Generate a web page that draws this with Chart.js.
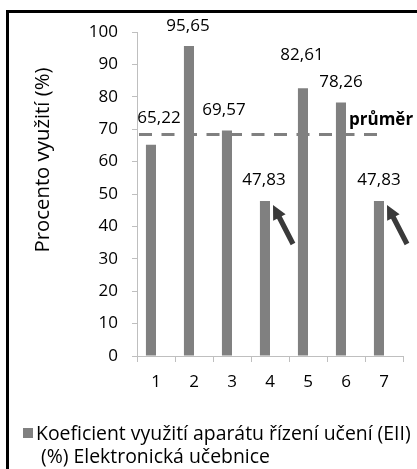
<!DOCTYPE html>
<html>
<head>
<meta charset="utf-8">
<script src="https://cdn.jsdelivr.net/npm/chart.js@4/dist/chart.umd.min.js"></script>
<style>
  html, body { margin: 0; padding: 0; background: #fff; overflow: hidden; }
  #wrap { position: relative; width: 417px; height: 469px; overflow: hidden; }
  #frame { position: absolute; left: 6px; top: 10px; width: 600px; height: 700px; border: 3px solid #000; box-sizing: border-box; pointer-events: none; }
  canvas { position: absolute; left: 0; top: 0; }
</style>
</head>
<body>
<div id="wrap">
  <canvas id="c" width="417" height="469"></canvas>
  <div id="frame"></div>
</div>
<script>
// ---- data ----
const categories = ['1', '2', '3', '4', '5', '6', '7'];
const values = [65.22, 95.65, 69.57, 47.83, 82.61, 78.26, 47.83];
const averageValue = 68.4;
const averageLabel = 'průměr';
const yTickValues = [0, 10, 20, 30, 40, 50, 60, 70, 80, 90, 100];
const yTitle = 'Procento využití (%)';
const seriesNameLines = ['Koeficient využití aparátu řízení učení (EII)', '(%) Elektronická učebnice'];
const arrowedBars = [3, 6];

const FONT = '"Open Sans", Lato, sans-serif';
const BAR_COLOR = '#808080';
const AXIS_COLOR = '#bfbfbf';

const labelOffsets = [[8, -27], [-1, -20], [-3, -20], [-1, -21], [-1, -33], [0, -20], [0, -21]];

function fitFont(ctx, text, width, weight) {
  let size = 20;
  ctx.font = (weight || '') + ' ' + size + 'px ' + FONT;
  const w = ctx.measureText(text).width;
  size = size * width / w;
  return size;
}

const overlayPlugin = {
  id: 'overlay',
  beforeDatasetsDraw(chart) {
    const ctx = chart.ctx;
    const y = chart.scales.y.getPixelForValue(averageValue);
    const meta = chart.getDatasetMeta(0);
    const last = meta.data[meta.data.length - 1];
    const x0 = chart.chartArea.left + 2;
    const x1 = last.x + last.width / 2;
    ctx.save();
    ctx.strokeStyle = '#808080';
    ctx.lineWidth = 3;
    ctx.setLineDash([13, 9.5]);
    ctx.beginPath();
    ctx.moveTo(x0, y);
    ctx.lineTo(x1, y);
    ctx.stroke();
    ctx.restore();
  },
  afterDatasetsDraw(chart) {
    const ctx = chart.ctx;
    const meta = chart.getDatasetMeta(0);
    ctx.save();
    // value labels
    ctx.font = '17px ' + FONT;
    ctx.fillStyle = '#000';
    ctx.textAlign = 'center';
    ctx.textBaseline = 'middle';
    meta.data.forEach((el, i) => {
      const txt = values[i].toFixed(2).replace('.', ',');
      const off = labelOffsets[i];
      ctx.fillText(txt, el.x + off[0], el.y + off[1]);
    });
    // average label
    const ya = chart.scales.y.getPixelForValue(averageValue);
    ctx.font = 'bold 17px ' + FONT;
    ctx.textAlign = 'left';
    ctx.textBaseline = 'alphabetic';
    ctx.fillText(averageLabel, 349, ya - 9);
    // arrows
    ctx.fillStyle = '#3a3a3a';
    arrowedBars.forEach(i => {
      const el = meta.data[i];
      const tx = el.x + el.width / 2 + 3, ty = el.y + 4;
      const sx = tx + 20, sy = ty + 39;
      const len = Math.hypot(tx - sx, ty - sy);
      const ux = (tx - sx) / len, uy = (ty - sy) / len;
      const px = -uy, py = ux;
      const headLen = 14, headHalf = 7, shaftHalf = 2.6;
      const bx = tx - ux * headLen, by = ty - uy * headLen;
      ctx.beginPath();
      ctx.moveTo(sx + px * shaftHalf, sy + py * shaftHalf);
      ctx.lineTo(bx + px * shaftHalf, by + py * shaftHalf);
      ctx.lineTo(bx + px * headHalf, by + py * headHalf);
      ctx.lineTo(tx, ty);
      ctx.lineTo(bx - px * headHalf, by - py * headHalf);
      ctx.lineTo(bx - px * shaftHalf, by - py * shaftHalf);
      ctx.lineTo(sx - px * shaftHalf, sy - py * shaftHalf);
      ctx.closePath();
      ctx.fill();
    });
    // y title
    ctx.save();
    ctx.translate(43, 160);
    ctx.rotate(-Math.PI / 2);
    const ts = fitFont(ctx, yTitle, 185);
    ctx.font = ts + 'px ' + FONT;
    ctx.fillStyle = '#000';
    ctx.textAlign = 'center';
    ctx.textBaseline = 'middle';
    ctx.fillText(yTitle, 0, 0);
    ctx.restore();
    // legend
    ctx.fillStyle = BAR_COLOR;
    ctx.fillRect(23, 428, 10, 10);
    ctx.fillStyle = '#000';
    const ls = fitFont(ctx, seriesNameLines[0], 375);
    ctx.font = ls + 'px ' + FONT;
    ctx.textAlign = 'left';
    ctx.textBaseline = 'alphabetic';
    ctx.fillText(seriesNameLines[0], 36, 440);
    ctx.fillText(seriesNameLines[1], 41, 463);
    ctx.restore();
  }
};

new Chart(document.getElementById('c'), {
  type: 'bar',
  data: {
    labels: categories,
    datasets: [
      {
        label: seriesNameLines.join(' '),
        data: values,
        backgroundColor: BAR_COLOR,
        categoryPercentage: 0.53,
        barPercentage: 1.0
      },
      {
        label: '',
        data: categories.map(() => null),
        backgroundColor: 'rgba(0,0,0,0)',
        categoryPercentage: 0.53,
        barPercentage: 1.0
      }
    ]
  },
  options: {
    responsive: false,
    animation: false,
    events: [],
    layout: { padding: { top: 32, right: 14, left: 0, bottom: 0 } },
    plugins: { legend: { display: false }, tooltip: { enabled: false } },
    scales: {
      x: {
        offset: true,
        grid: { offset: true, drawOnChartArea: false, drawTicks: true, tickLength: 6, color: AXIS_COLOR },
        border: { color: AXIS_COLOR },
        ticks: { font: { family: FONT, size: 17 }, color: '#000', padding: 10 },
        afterFit(s) { s.height = 113; }
      },
      y: {
        min: 0,
        max: 100,
        afterBuildTicks(s) { s.ticks = yTickValues.map(v => ({ value: v })); },
        grid: { drawOnChartArea: false, drawTicks: true, tickLength: 5, color: AXIS_COLOR },
        border: { color: AXIS_COLOR },
        ticks: { font: { family: FONT, size: 17 }, color: '#000', padding: 14 },
        afterFit(s) { s.width = 137; }
      }
    }
  },
  plugins: [overlayPlugin]
});
</script>
</body>
</html>
